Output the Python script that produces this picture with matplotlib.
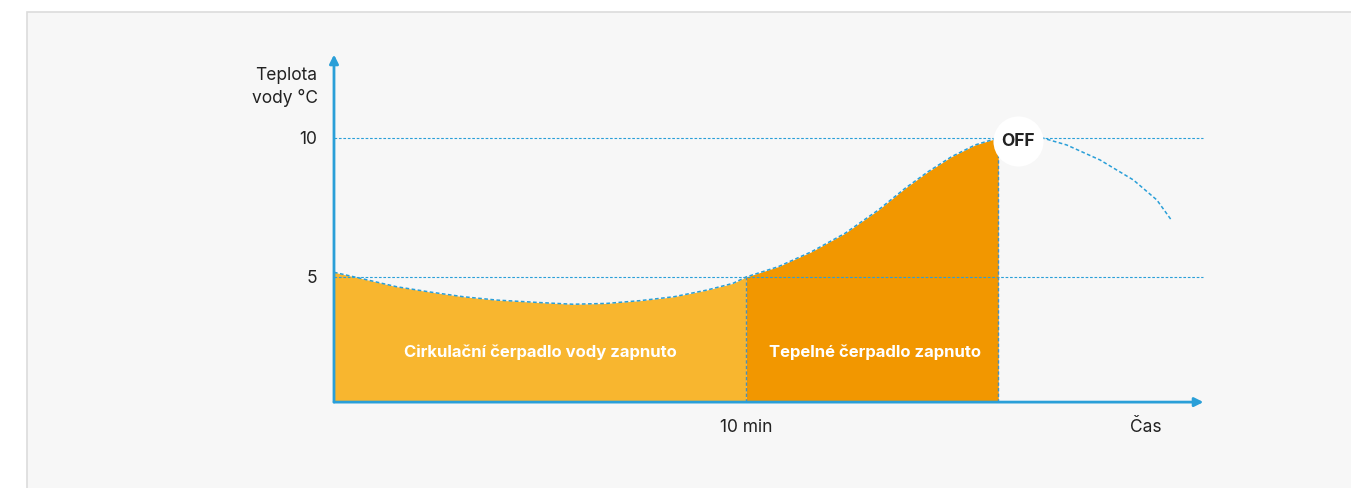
import matplotlib

matplotlib.use("Agg")

import matplotlib.pyplot as plt
from matplotlib.patches import Rectangle

plt.rcParams["font.family"] = ["Inter", "DejaVu Sans"]

# ---------------------------------------------------------------------------
# Data
# ---------------------------------------------------------------------------
# time in minutes, water temperature in °C
pump_t = [0.0, 0.71, 1.52, 2.33, 3.14, 3.95, 5.0, 5.80, 6.62, 7.43, 8.25,
          9.05, 9.68, 10.0]
pump_temp = [5.17, 4.93, 4.65, 4.46, 4.29, 4.17, 4.08, 4.02, 4.05, 4.15,
             4.29, 4.53, 4.77, 5.0]

heat_t = [10.0, 10.78, 11.59, 12.40, 13.21, 13.86, 14.42, 14.99, 15.56,
          16.0, 16.12]
heat_temp = [5.0, 5.37, 5.91, 6.57, 7.41, 8.19, 8.79, 9.33, 9.75, 9.95, 10.0]

cool_t = [16.12, 17.22, 17.78, 18.59, 19.40, 19.97, 20.33]
cool_temp = [10.0, 9.99, 9.75, 9.21, 8.49, 7.77, 7.03]

y_ticks = [5, 10]
y_tick_labels = ["5", "10"]
x_mark = 10
x_mark_label = "10 min"
off_time = 16.12

y_label = "Teplota\nvody °C"
x_label = "Čas"
pump_label = "Cirkulační čerpadlo vody zapnuto"
heat_label = "Tepelné čerpadlo zapnuto"

# ---------------------------------------------------------------------------
# Styling
# ---------------------------------------------------------------------------
BLUE = "#2a9fd8"
LIGHT_ORANGE = "#f8b62f"
DARK_ORANGE = "#f29700"
TEXT = "#222222"
PANEL = "#f7f7f7"

baseline = 0.5
x_end = 21.1
y_top = 13.0

fig = plt.figure(figsize=(13.51, 4.88), dpi=100)
fig.patch.set_facecolor("white")

# light grey panel behind the chart
panel = Rectangle((27 / 1351, -0.1), 1.1, 1.1 - 12 / 488,
                  transform=fig.transFigure, facecolor=PANEL,
                  edgecolor="#dcdcdc", linewidth=1.2, zorder=-10)
fig.patches.append(panel)

ax = fig.add_axes([300 / 1351, 38 / 488, 950 / 1351, 410 / 488])
ax.set_xlim(-0.825, 22.23)
ax.set_ylim(-1.223, 13.525)
ax.axis("off")

dash = (0, (2.4, 1.6))

# filled areas
ax.fill_between(pump_t, pump_temp, baseline, color=LIGHT_ORANGE, lw=0, zorder=1)
ax.fill_between(heat_t, heat_temp, baseline, color=DARK_ORANGE, lw=0, zorder=1)

# reference lines
for yv in y_ticks:
    ax.plot([0, x_end], [yv, yv], color=BLUE, lw=0.8, ls=dash, zorder=2)
ax.plot([x_mark, x_mark], [baseline, heat_temp[0]], color="#4a90b8",
        lw=1.0, ls=dash, zorder=2)
ax.plot([off_time, off_time], [baseline, heat_temp[-1]], color="#4a90b8",
        lw=1.0, ls=dash, zorder=2)

# temperature curve
ax.plot(pump_t + heat_t[1:], pump_temp + heat_temp[1:], color=BLUE, lw=1.1,
        ls=dash, zorder=3)
ax.plot(cool_t, cool_temp, color=BLUE, lw=1.1, ls=dash, zorder=3)

# axes with arrows
arrow = dict(arrowstyle="-|>", color=BLUE, lw=2, mutation_scale=13,
             shrinkA=0, shrinkB=0)
ax.annotate("", xy=(x_end, baseline), xytext=(0, baseline),
            arrowprops=arrow, zorder=4)
ax.annotate("", xy=(0, y_top), xytext=(0, baseline),
            arrowprops=arrow, zorder=4)

# tick labels and axis titles
for yv, lab in zip(y_ticks, y_tick_labels):
    ax.text(-0.4, yv - 0.05, lab, ha="right", va="center", fontsize=12.5,
            color=TEXT)
ax.text(-0.4, 11.85, y_label, ha="right", va="center", fontsize=12.5,
        color=TEXT, linespacing=1.35)
ax.text(x_mark, -0.4, x_mark_label, ha="center", va="center", fontsize=12.5,
        color=TEXT)
ax.text(19.7, -0.4, x_label, ha="center", va="center", fontsize=12.5,
        color=TEXT)

# labels inside the filled areas
ax.text(5.0, 2.3, pump_label, ha="center", va="center", fontsize=12,
        fontweight="bold", color="white", zorder=5)
ax.text(13.12, 2.3, heat_label, ha="center", va="center", fontsize=12,
        fontweight="bold", color="white", zorder=5)

# OFF marker
off_x, off_y = 16.6, 9.89
ax.scatter([off_x], [off_y], s=1300, color="white", zorder=6, lw=0)
ax.text(off_x, off_y, "OFF", ha="center", va="center", fontsize=12.5,
        fontweight="bold", color=TEXT, zorder=7)

fig.savefig("out.png", dpi=100, facecolor=fig.get_facecolor())
